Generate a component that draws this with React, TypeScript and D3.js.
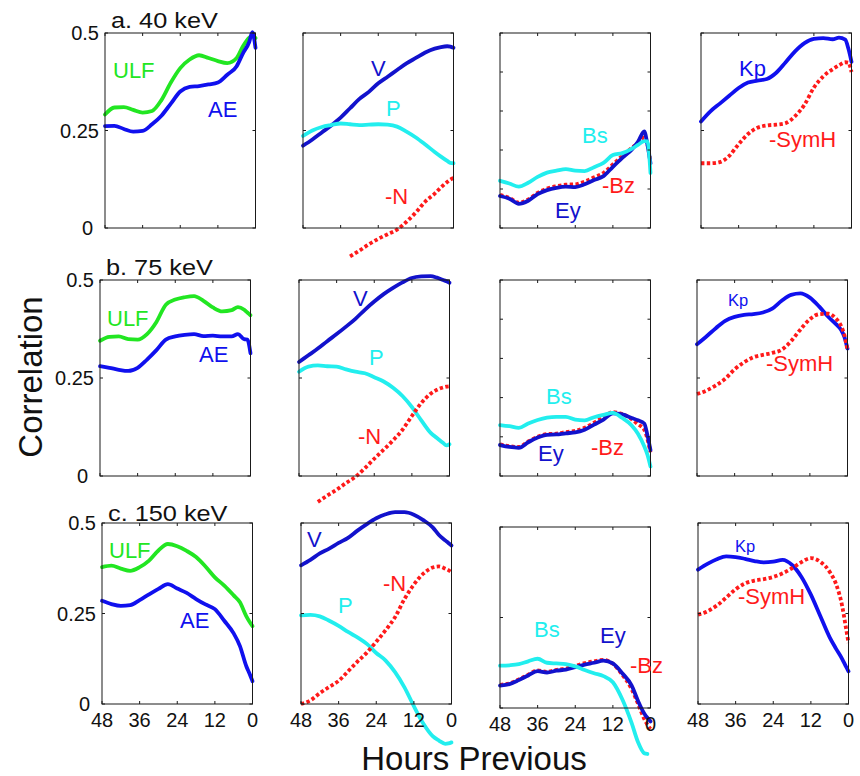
import React from "react";
import * as d3 from "d3";

type V = number | null;

// ---------- data ----------
const HOURS = [48, 45, 42, 39, 36, 33, 30, 27, 24, 21, 18, 15, 12, 9, 6, 4, 2, 1, 0];
const X_TICKS = [48, 36, 24, 12, 0];
const Y_TICKS_MAIN = [0, 0.25, 0.5];
const Y_TICKS_FINE = [0, 0.1, 0.2, 0.3, 0.4, 0.5];
const Y_TICK_LABELS = ["0", "0.25", "0.5"];
const ROW_TITLES = ["a. 40 keV", "b. 75 keV", "c. 150 keV"];

// a. 40 keV
const ULF_40: V[] = [0.291, 0.309, 0.310, 0.303, 0.296, 0.300, 0.328, 0.373, 0.410, 0.432, 0.443, 0.436, 0.428, 0.423, 0.436, 0.466, 0.488, 0.493, 0.487];
const AE_40: V[] = [0.261, 0.262, 0.254, 0.247, 0.249, 0.266, 0.288, 0.319, 0.350, 0.362, 0.364, 0.368, 0.373, 0.393, 0.415, 0.448, 0.477, 0.502, 0.462];
const V_40: V[] = [0.211, 0.227, 0.245, 0.263, 0.283, 0.307, 0.331, 0.349, 0.371, 0.388, 0.405, 0.422, 0.436, 0.450, 0.460, 0.464, 0.466, 0.465, 0.462];
const P_40: V[] = [0.236, 0.250, 0.259, 0.264, 0.268, 0.266, 0.264, 0.265, 0.266, 0.265, 0.260, 0.247, 0.232, 0.214, 0.195, 0.183, 0.172, 0.167, 0.166];
const N_40: V[] = [null, null, null, null, null, -0.073, -0.058, -0.042, -0.028, -0.016, -0.004, 0.016, 0.040, 0.068, 0.088, 0.104, 0.118, 0.124, 0.128];
const BS_40: V[] = [0.121, 0.114, 0.106, 0.116, 0.131, 0.142, 0.147, 0.151, 0.147, 0.146, 0.156, 0.167, 0.187, 0.192, 0.203, 0.213, 0.223, 0.222, 0.141];
const EY_40: V[] = [0.082, 0.075, 0.062, 0.070, 0.087, 0.097, 0.103, 0.106, 0.105, 0.112, 0.123, 0.133, 0.157, 0.180, 0.201, 0.221, 0.248, 0.215, 0.166];
const BZ_40: V[] = [0.085, 0.077, 0.065, 0.073, 0.090, 0.101, 0.107, 0.111, 0.112, 0.119, 0.130, 0.141, 0.163, 0.185, 0.205, 0.218, 0.232, 0.215, 0.170];
const KP_40: V[] = [0.273, 0.299, 0.319, 0.339, 0.359, 0.373, 0.378, 0.382, 0.398, 0.425, 0.453, 0.474, 0.485, 0.487, 0.484, 0.488, 0.483, 0.460, 0.426];
const SYMH_40: V[] = [0.166, 0.166, 0.169, 0.185, 0.215, 0.241, 0.257, 0.263, 0.265, 0.269, 0.287, 0.316, 0.360, 0.389, 0.407, 0.417, 0.425, 0.424, 0.400];

// b. 75 keV
const ULF_75: V[] = [0.345, 0.355, 0.356, 0.349, 0.348, 0.362, 0.393, 0.437, 0.450, 0.456, 0.459, 0.447, 0.430, 0.420, 0.423, 0.431, 0.424, 0.417, 0.410];
const AE_75: V[] = [0.280, 0.276, 0.271, 0.268, 0.276, 0.297, 0.321, 0.348, 0.356, 0.360, 0.362, 0.357, 0.358, 0.356, 0.356, 0.362, 0.349, 0.348, 0.313];
const V_75: V[] = [0.291, 0.308, 0.325, 0.344, 0.362, 0.381, 0.401, 0.424, 0.445, 0.464, 0.480, 0.494, 0.505, 0.509, 0.510, 0.506, 0.500, 0.497, 0.493];
const P_75: V[] = [0.266, 0.279, 0.282, 0.280, 0.279, 0.272, 0.266, 0.262, 0.252, 0.241, 0.225, 0.204, 0.176, 0.142, 0.110, 0.097, 0.084, 0.078, 0.081];
const N_75: V[] = [null, null, -0.066, -0.050, -0.035, -0.018, -0.002, 0.020, 0.044, 0.067, 0.091, 0.118, 0.153, 0.186, 0.210, 0.220, 0.226, 0.228, 0.229];
const BS_75: V[] = [0.130, 0.127, 0.123, 0.134, 0.143, 0.149, 0.151, 0.151, 0.144, 0.142, 0.150, 0.156, 0.161, 0.148, 0.129, 0.108, 0.076, 0.055, 0.024];
const EY_75: V[] = [0.079, 0.074, 0.072, 0.086, 0.098, 0.105, 0.106, 0.109, 0.111, 0.118, 0.131, 0.144, 0.160, 0.157, 0.148, 0.142, 0.134, 0.105, 0.066];
const BZ_75: V[] = [0.081, 0.076, 0.074, 0.088, 0.100, 0.107, 0.108, 0.112, 0.115, 0.123, 0.136, 0.150, 0.163, 0.158, 0.145, 0.132, 0.118, 0.095, 0.060];
const KP_75: V[] = [0.336, 0.356, 0.377, 0.396, 0.406, 0.411, 0.413, 0.417, 0.427, 0.447, 0.462, 0.466, 0.455, 0.432, 0.405, 0.390, 0.372, 0.355, 0.325];
const SYMH_75: V[] = [0.209, 0.218, 0.231, 0.248, 0.272, 0.290, 0.303, 0.309, 0.314, 0.322, 0.344, 0.374, 0.400, 0.413, 0.414, 0.404, 0.382, 0.360, 0.321];

// c. 150 keV
const ULF_150: V[] = [0.378, 0.382, 0.374, 0.368, 0.378, 0.396, 0.424, 0.442, 0.436, 0.423, 0.406, 0.380, 0.350, 0.327, 0.300, 0.281, 0.243, 0.228, 0.215];
const AE_150: V[] = [0.285, 0.276, 0.271, 0.273, 0.287, 0.303, 0.318, 0.331, 0.319, 0.307, 0.290, 0.275, 0.262, 0.230, 0.195, 0.160, 0.105, 0.085, 0.063];
const V_150: V[] = [0.383, 0.398, 0.416, 0.429, 0.445, 0.459, 0.479, 0.497, 0.513, 0.524, 0.530, 0.530, 0.523, 0.508, 0.488, 0.467, 0.452, 0.445, 0.438];
const P_150: V[] = [0.245, 0.246, 0.242, 0.230, 0.216, 0.199, 0.184, 0.166, 0.141, 0.120, 0.088, 0.046, -0.006, -0.054, -0.089, -0.101, -0.110, -0.109, -0.106];
const N_150: V[] = [0.000, 0.010, 0.030, 0.047, 0.064, 0.090, 0.117, 0.142, 0.172, 0.204, 0.240, 0.290, 0.330, 0.360, 0.377, 0.380, 0.374, 0.370, 0.364];
const BS_150: V[] = [0.117, 0.118, 0.121, 0.129, 0.136, 0.125, 0.123, 0.121, 0.115, 0.105, 0.096, 0.088, 0.071, 0.024, -0.042, -0.094, -0.125, -0.127, null];
const EY_150: V[] = [0.062, 0.066, 0.077, 0.090, 0.102, 0.098, 0.103, 0.106, 0.113, 0.120, 0.125, 0.131, 0.123, 0.096, 0.062, 0.020, -0.015, -0.027, -0.037];
const BZ_150: V[] = [0.064, 0.068, 0.079, 0.092, 0.104, 0.100, 0.105, 0.109, 0.116, 0.124, 0.129, 0.133, 0.122, 0.092, 0.052, 0.012, -0.030, -0.046, -0.058];
const KP_150: V[] = [0.371, 0.387, 0.400, 0.408, 0.406, 0.401, 0.395, 0.391, 0.393, 0.398, 0.384, 0.351, 0.302, 0.243, 0.184, 0.153, 0.124, 0.107, 0.090];
const SYMH_150: V[] = [0.247, 0.256, 0.272, 0.294, 0.317, 0.333, 0.341, 0.345, 0.351, 0.361, 0.375, 0.392, 0.403, 0.393, 0.365, 0.332, 0.270, 0.220, 0.169];

// ---------- styling / layout ----------
const GREEN = "#22e622";
const BLUE = "#1010ee";
const DBLUE = "#1212cc";
const CYAN = "#22eeee";
const RED = "#ff1a1a";
const FONT = "'Liberation Sans', Arial, Helvetica, sans-serif";

const LEFTS = [
  [105, 303, 500, 701],
  [100, 299, 500, 697],
  [102, 301, 500, 698],
];
const TOPS = [
  [33, 33, 33, 33],
  [280, 280, 280, 280],
  [523, 523, 527, 523],
];
const HEIGHTS = [195, 196, 181];
const PW = 150.5;

type S = { v: V[]; c: string; dot?: boolean; label: string; lx: number; ly: number; fs?: number };
type Panel = { row: number; col: number; series: S[] };

const PANELS: Panel[] = [
  { row: 0, col: 0, series: [
    { v: ULF_40, c: GREEN, label: "ULF", lx: 113, ly: 78 },
    { v: AE_40, c: BLUE, label: "AE", lx: 208, ly: 117 },
  ] },
  { row: 0, col: 1, series: [
    { v: V_40, c: DBLUE, label: "V", lx: 371, ly: 76 },
    { v: P_40, c: CYAN, label: "P", lx: 386, ly: 116 },
    { v: N_40, c: RED, dot: true, label: "-N", lx: 385, ly: 204 },
  ] },
  { row: 0, col: 2, series: [
    { v: BZ_40, c: RED, dot: true, label: "-Bz", lx: 602, ly: 193 },
    { v: EY_40, c: DBLUE, label: "Ey", lx: 555, ly: 218 },
    { v: BS_40, c: CYAN, label: "Bs", lx: 582, ly: 143 },
  ] },
  { row: 0, col: 3, series: [
    { v: KP_40, c: BLUE, label: "Kp", lx: 739, ly: 76 },
    { v: SYMH_40, c: RED, dot: true, label: "-SymH", lx: 769, ly: 147 },
  ] },
  { row: 1, col: 0, series: [
    { v: ULF_75, c: GREEN, label: "ULF", lx: 107, ly: 326 },
    { v: AE_75, c: BLUE, label: "AE", lx: 199, ly: 362 },
  ] },
  { row: 1, col: 1, series: [
    { v: V_75, c: DBLUE, label: "V", lx: 353, ly: 306 },
    { v: P_75, c: CYAN, label: "P", lx: 369, ly: 365 },
    { v: N_75, c: RED, dot: true, label: "-N", lx: 358, ly: 444 },
  ] },
  { row: 1, col: 2, series: [
    { v: BZ_75, c: RED, dot: true, label: "-Bz", lx: 591, ly: 455 },
    { v: EY_75, c: DBLUE, label: "Ey", lx: 538, ly: 461 },
    { v: BS_75, c: CYAN, label: "Bs", lx: 546, ly: 404 },
  ] },
  { row: 1, col: 3, series: [
    { v: KP_75, c: BLUE, label: "Kp", lx: 728, ly: 306, fs: 16.5 },
    { v: SYMH_75, c: RED, dot: true, label: "-SymH", lx: 766, ly: 371 },
  ] },
  { row: 2, col: 0, series: [
    { v: ULF_150, c: GREEN, label: "ULF", lx: 109, ly: 558 },
    { v: AE_150, c: BLUE, label: "AE", lx: 180, ly: 628 },
  ] },
  { row: 2, col: 1, series: [
    { v: V_150, c: DBLUE, label: "V", lx: 307, ly: 547 },
    { v: P_150, c: CYAN, label: "P", lx: 338, ly: 613 },
    { v: N_150, c: RED, dot: true, label: "-N", lx: 383, ly: 591 },
  ] },
  { row: 2, col: 2, series: [
    { v: BZ_150, c: RED, dot: true, label: "-Bz", lx: 630, ly: 673 },
    { v: EY_150, c: DBLUE, label: "Ey", lx: 600, ly: 643 },
    { v: BS_150, c: CYAN, label: "Bs", lx: 534, ly: 637 },
  ] },
  { row: 2, col: 3, series: [
    { v: KP_150, c: BLUE, label: "Kp", lx: 735, ly: 552, fs: 16.5 },
    { v: SYMH_150, c: RED, dot: true, label: "-SymH", lx: 738, ly: 604 },
  ] },
];

const TITLE_POS = [
  { x: 111, y: 28 },
  { x: 106, y: 275 },
  { x: 108, y: 521 },
];

function PanelView({ p }: { p: Panel }) {
  const left = LEFTS[p.row][p.col];
  const top = TOPS[p.row][p.col];
  const h = HEIGHTS[p.row];
  const x = d3.scaleLinear().domain([48, 0]).range([left, left + PW]);
  const y = d3.scaleLinear().domain([0, 0.5]).range([top + h, top]);
  const yTicks = p.col === 2 && p.row < 2 ? Y_TICKS_FINE : Y_TICKS_MAIN;
  const tl = 3;
  const line = d3
    .line<[number, V]>()
    .defined((d) => d[1] != null)
    .x((d) => x(d[0]))
    .y((d) => y(d[1] as number))
    .curve(d3.curveMonotoneX);
  return (
    <g>
      {p.series.map((s, i) => (
        <path
          key={"l" + i}
          d={line(HOURS.map((hr, j) => [hr, s.v[j]] as [number, V])) || ""}
          fill="none"
          stroke={s.c}
          strokeWidth={3.8}
          strokeDasharray={s.dot ? "3.4,2.4" : undefined}
          strokeLinejoin="round"
          strokeLinecap={s.dot ? "butt" : "round"}
        />
      ))}
      <rect x={left} y={top} width={PW} height={h} fill="none" stroke="#1a1a1a" strokeWidth={1} />
      {X_TICKS.map((t) => (
        <g key={"xt" + t}>
          <line x1={x(t)} x2={x(t)} y1={top + h} y2={top + h - tl} stroke="#1a1a1a" />
          <line x1={x(t)} x2={x(t)} y1={top} y2={top + tl} stroke="#1a1a1a" />
        </g>
      ))}
      {yTicks.map((t) => (
        <g key={"yt" + t}>
          <line x1={left} x2={left + tl} y1={y(t)} y2={y(t)} stroke="#1a1a1a" />
          <line x1={left + PW} x2={left + PW - tl} y1={y(t)} y2={y(t)} stroke="#1a1a1a" />
        </g>
      ))}
      {p.col === 0 &&
        Y_TICKS_MAIN.map((t, i) => (
          <text
            key={"yl" + t}
            x={t === 0 ? left - 12 : left - 6}
            y={y(t) + 7}
            textAnchor="end"
            fontSize={20}
            fontFamily={FONT}
            fill="#111"
          >
            {Y_TICK_LABELS[i]}
          </text>
        ))}
      {p.row === 2 &&
        X_TICKS.map((t) => (
          <text
            key={"xl" + t}
            x={x(t)}
            y={top + h + 23}
            textAnchor="middle"
            fontSize={20}
            fontFamily={FONT}
            fill="#111"
          >
            {t}
          </text>
        ))}
      {p.series.map((s, i) => (
        <text key={"lab" + i} x={s.lx} y={s.ly} fontSize={s.fs ?? 22} fontFamily={FONT} fill={s.c}>
          {s.label}
        </text>
      ))}
    </g>
  );
}

export default function App() {
  return (
    <svg width={860} height={776} style={{ display: "block", position: "absolute", left: 0, top: 0, background: "#fff" }}>
      <rect x={0} y={0} width={860} height={776} fill="#fff" />
      {PANELS.map((p, i) => (
        <PanelView key={i} p={p} />
      ))}
      {ROW_TITLES.map((t, i) => (
        <text
          key={t}
          transform={`translate(${TITLE_POS[i].x},${TITLE_POS[i].y}) scale(1.15,1)`}
          fontSize={22}
          fontFamily={FONT}
          fill="#111"
        >
          {t}
        </text>
      ))}
      <text
        transform="translate(42,377) rotate(-90)"
        textAnchor="middle"
        fontSize={33}
        fontFamily={FONT}
        fill="#111"
      >
        Correlation
      </text>
      <text x={474} y={770} textAnchor="middle" fontSize={33} fontFamily={FONT} fill="#111">
        Hours Previous
      </text>
    </svg>
  );
}
